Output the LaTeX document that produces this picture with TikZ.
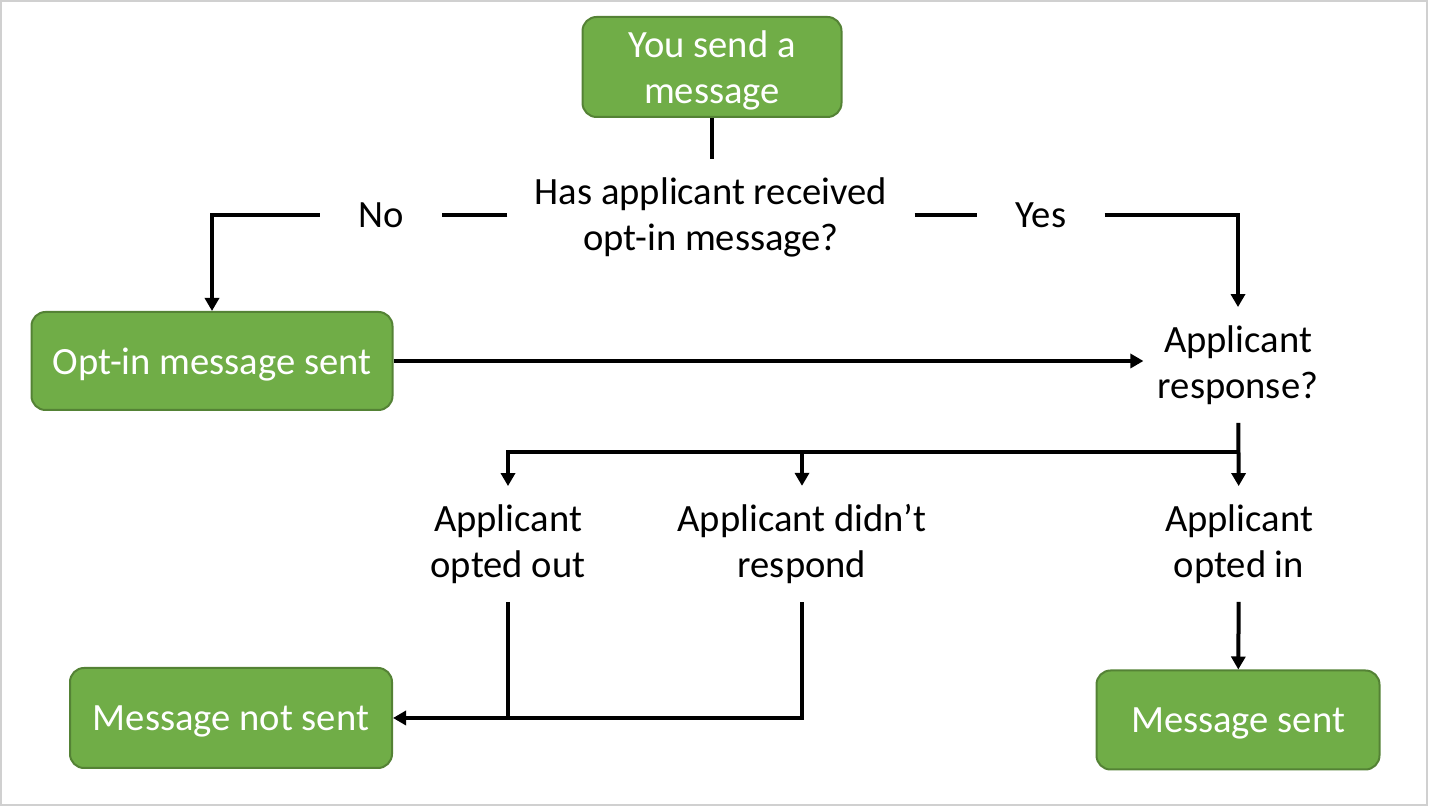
\documentclass[tikz,border=0pt]{standalone}
\usepackage{fontspec}
\setmainfont{Carlito}
\usetikzlibrary{arrows.meta}
\usetikzlibrary{positioning}
\definecolor{boxgreen}{HTML}{70AD47}
\definecolor{boxedge}{HTML}{548235}
\definecolor{framegrey}{HTML}{D0D0D0}

\begin{document}
\begin{tikzpicture}[x=0.5pt,y=-0.5pt,font=\fontsize{19.3}{23}\selectfont,
  stepbox/.style={draw=boxedge,line width=1pt,fill=boxgreen,text=white,rounded corners=7pt,align=center,inner sep=0pt,text depth=0pt},
  ask/.style={align=center,inner xsep=13.5pt,inner ysep=9pt},
  lbl/.style={inner xsep=19pt},
  link/.style={line width=2pt},
  arr/.style={link,-{Triangle[width=7pt,length=6.5pt]}}]
\useasboundingbox (0,0) rectangle (1431,806);
\draw[framegrey,line width=1pt] (1,1) rectangle (1427,805);

\node[stepbox,minimum width=129.5pt,minimum height=50pt] (send) at (712,67) {You send a\\message};
\node[ask] (asked) at (711,217) {Has applicant received\\opt-in message?};
\node[lbl] (no) at (381,215) {No};
\node[lbl] (yes) at (1041,215) {Yes};
\node[stepbox,minimum width=180.5pt,minimum height=49pt] (optin) at (212,361) {Opt-in message sent};
\node[ask,inner xsep=7pt] (resp) at (1238,365) {Applicant\\response?};
\node[ask] (out) at (508,544) {Applicant\\opted out};
\node[ask] (silent) at (802,544) {Applicant didn’t\\respond};
\node[ask] (in) at (1239,544) {Applicant\\opted in};
\node[stepbox,minimum width=161pt,minimum height=50pt] (notsent) at (231,718) {Message not sent};
\node[stepbox,minimum width=141.5pt,minimum height=49.5pt] (sent) at (1238,720) {Message sent};

\coordinate (split) at (1240,452);

\draw[link] (send) -- (send |- asked.north);
\draw[link] (asked.west |- no) -- (no);
\draw[arr] (no) -| (optin);
\draw[link] (asked.east |- yes) -- (yes);
\draw[arr] (yes) -| (resp);
\draw[arr] (optin) -- (optin -| resp.west);
\draw[arr] (resp) -- (in);
\draw[arr] (split) -| (out);
\draw[arr] (split -| silent) -- (silent);
\draw[link] (out) -- (out |- notsent);
\draw[arr] (silent) |- (notsent);
\draw[arr] (in) -- (sent);
\end{tikzpicture}
\end{document}
